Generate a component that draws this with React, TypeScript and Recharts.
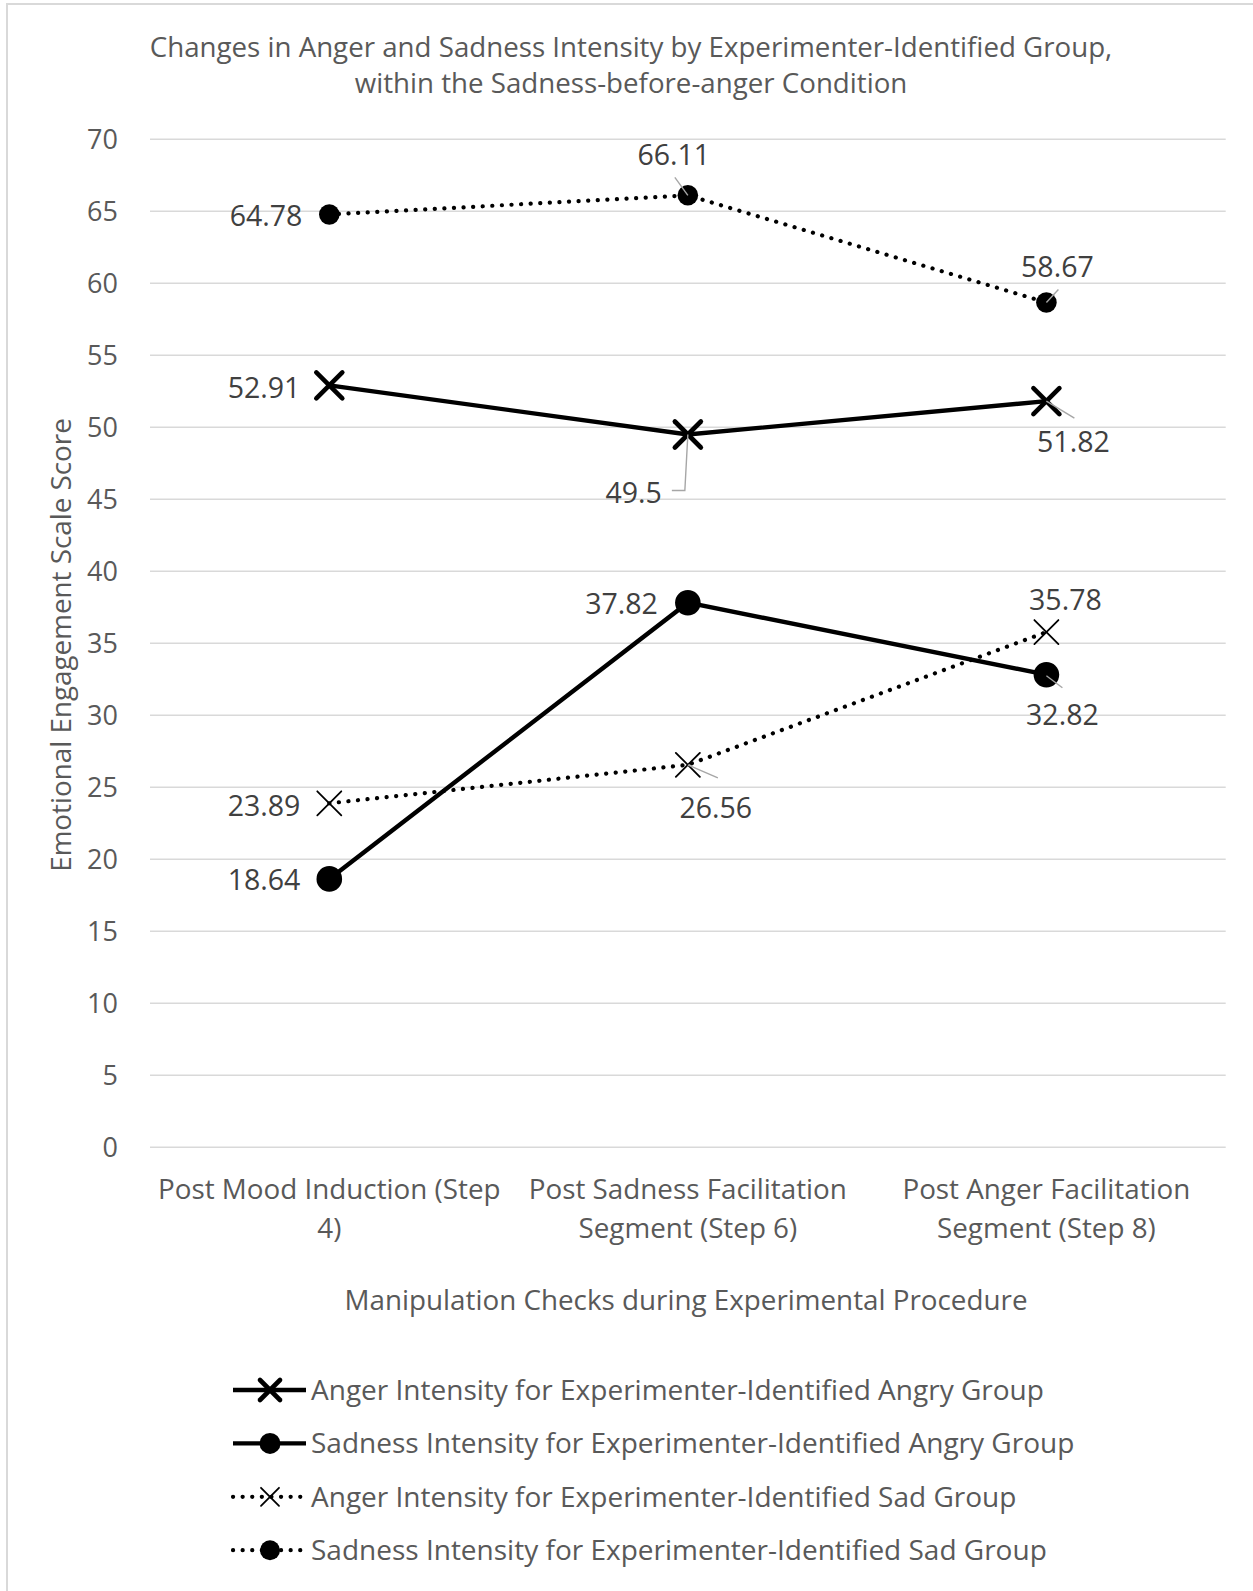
import React from "react";
import { LineChart, Line, XAxis, YAxis, CartesianGrid, Legend, LabelList } from "recharts";

document.body.style.margin = "0";

const FONT = '"Open Sans", "Noto Sans", sans-serif';
const TEXT_GREY = "#595959";
const LABEL_GREY = "#404040";
const GRID = "#d9d9d9";
const LEADER = "#a6a6a6";
const DOTTED_WIDTH = 4.2;
const SOLID_WIDTH = 4.4;

const categories = [
  "Post Mood Induction (Step 4)",
  "Post Sadness Facilitation Segment (Step 6)",
  "Post Anger Facilitation Segment (Step 8)",
];
// how each category label breaks onto two lines under the axis
const categoryLines = [
  ["Post Mood Induction (Step", "4)"],
  ["Post Sadness Facilitation", "Segment (Step 6)"],
  ["Post Anger Facilitation", "Segment (Step 8)"],
];
const yTicks = [0, 5, 10, 15, 20, 25, 30, 35, 40, 45, 50, 55, 60, 65, 70];

const angerAngry = [52.91, 49.5, 51.82];
const sadnessAngry = [18.64, 37.82, 32.82];
const angerSad = [23.89, 26.56, 35.78];
const sadnessSad = [64.78, 66.11, 58.67];

const data = categories.map((name, i) => ({
  name,
  angerAngry: angerAngry[i],
  sadnessAngry: sadnessAngry[i],
  angerSad: angerSad[i],
  sadnessSad: sadnessSad[i],
}));

type Placement = {
  dx: number;
  dy: number;
  anchor: "start" | "middle" | "end";
  leader?: number[][];
};

// where each value label sits relative to its point
const angerAngryPlace: Placement[] = [
  { dx: -29, dy: 2, anchor: "end" },
  { dx: -26, dy: 58, anchor: "end", leader: [[0, 0], [-3, 56], [-16, 56]] },
  { dx: 27, dy: 41, anchor: "middle", leader: [[0, 0], [28, 17]] },
];
const sadnessAngryPlace: Placement[] = [
  { dx: -29, dy: 1, anchor: "end" },
  { dx: -30, dy: 1, anchor: "end" },
  { dx: 16, dy: 40, anchor: "middle", leader: [[0, 1], [16, 13]] },
];
const angerSadPlace: Placement[] = [
  { dx: -29, dy: 2, anchor: "end" },
  { dx: 28, dy: 43, anchor: "middle", leader: [[0, 0], [30, 13]] },
  { dx: 19, dy: -32, anchor: "middle" },
];
const sadnessSadPlace: Placement[] = [
  { dx: -27, dy: 1, anchor: "end" },
  { dx: -14, dy: -41, anchor: "middle", leader: [[-13, -18], [0, 0]] },
  { dx: 11, dy: -36, anchor: "middle", leader: [[0, 0], [12, -13]] },
];

type MarkerKind = "boldX" | "bigDot" | "thinX" | "dot";

const series = [
  {
    key: "angerAngry",
    name: "Anger Intensity for Experimenter-Identified Angry Group",
    dotted: false,
    marker: "boldX" as MarkerKind,
    place: angerAngryPlace,
  },
  {
    key: "sadnessAngry",
    name: "Sadness Intensity for Experimenter-Identified Angry Group",
    dotted: false,
    marker: "bigDot" as MarkerKind,
    place: sadnessAngryPlace,
  },
  {
    key: "angerSad",
    name: "Anger Intensity for Experimenter-Identified Sad Group",
    dotted: true,
    marker: "thinX" as MarkerKind,
    place: angerSadPlace,
  },
  {
    key: "sadnessSad",
    name: "Sadness Intensity for Experimenter-Identified Sad Group",
    dotted: true,
    marker: "dot" as MarkerKind,
    place: sadnessSadPlace,
  },
];

function Marker({ cx, cy, kind, legend }: { cx: number; cy: number; kind: MarkerKind; legend?: boolean }) {
  if (kind === "boldX" || kind === "thinX") {
    const r = kind === "boldX" ? (legend ? 10 : 13) : legend ? 9 : 12;
    const w = kind === "boldX" ? 4.6 : 1.8;
    return (
      <g stroke="#000" strokeWidth={w} strokeLinecap="round" fill="none">
        <line x1={cx - r} y1={cy - r} x2={cx + r} y2={cy + r} />
        <line x1={cx - r} y1={cy + r} x2={cx + r} y2={cy - r} />
      </g>
    );
  }
  const r = kind === "bigDot" ? (legend ? 10.5 : 12.8) : legend ? 10 : 10.3;
  return <circle cx={cx} cy={cy} r={r} fill="#000" />;
}

function makeLabel(place: Placement[]) {
  return (props: any) => {
    const x = props.x ?? props.viewBox?.x;
    const y = props.y ?? props.viewBox?.y;
    const p = place[props.index];
    if (x == null || y == null || !p) return null;
    return (
      <g>
        {p.leader && (
          <polyline
            points={p.leader.map(([lx, ly]) => `${x + lx},${y + ly}`).join(" ")}
            fill="none"
            stroke={LEADER}
            strokeWidth={1.4}
          />
        )}
        <text
          x={x + p.dx}
          y={y + p.dy}
          dy="0.36em"
          textAnchor={p.anchor}
          fontFamily={FONT}
          fontSize={28.5}
          fill={LABEL_GREY}
        >
          {props.value}
        </text>
      </g>
    );
  };
}

const YTick = (props: any) => (
  <text
    x={118}
    y={props.y}
    dy="0.36em"
    textAnchor="end"
    fontFamily={FONT}
    fontSize={27}
    fill={TEXT_GREY}
  >
    {props.payload.value}
  </text>
);

const XTick = (props: any) => {
  const lines = categoryLines[props.index] ?? [props.payload.value];
  return (
    <text textAnchor="middle" fontFamily={FONT} fontSize={27.8} fill={TEXT_GREY}>
      {lines.map((t: string, i: number) => (
        <tspan key={i} x={props.x} y={props.y + 52 + i * 39}>
          {t}
        </tspan>
      ))}
    </text>
  );
};

const LegendIcon = ({ y, dotted, marker }: { y: number; dotted: boolean; marker: MarkerKind }) => (
  <g>
    <line
      x1={233}
      y1={y}
      x2={306}
      y2={y}
      stroke="#000"
      strokeWidth={dotted ? DOTTED_WIDTH : SOLID_WIDTH}
      strokeDasharray={dotted ? "0.1 9.5" : undefined}
      strokeLinecap={dotted ? "round" : "butt"}
    />
    <Marker cx={270} cy={y} kind={marker} legend />
  </g>
);

const renderLegend = (props: any) => {
  const items = [...(props.payload ?? [])].sort(
    (a: any, b: any) =>
      series.findIndex((s) => s.key === a.dataKey) - series.findIndex((s) => s.key === b.dataKey)
  );
  return (
    <svg width={1253} height={231}>
      {items.map((item: any, i: number) => {
        const s = series.find((d) => d.key === item.dataKey)!;
        const cy = 30 + i * 53.4;
        return (
          <g key={s.key}>
            <LegendIcon y={cy} dotted={s.dotted} marker={s.marker} />
            <text x={311} y={cy} dy="0.36em" fontFamily={FONT} fontSize={28} fill={TEXT_GREY}>
              {item.value}
            </text>
          </g>
        );
      })}
    </svg>
  );
};

export default function App() {
  return (
    <div style={{ position: "relative", width: 1253, height: 1591, background: "#fff", overflow: "hidden" }}>
      <LineChart
        width={1253}
        height={1591}
        data={data}
        margin={{ top: 139.3, right: 27.3, bottom: 283.7, left: 90 }}
      >
        <CartesianGrid vertical={false} stroke={GRID} strokeWidth={1.4} />
        <XAxis
          dataKey="name"
          axisLine={false}
          tickLine={false}
          tickSize={0}
          tickMargin={0}
          height={160}
          interval={0}
          padding={{ left: 179.3, right: 179.3 }}
          tick={<XTick />}
        />
        <YAxis
          domain={[0, 70]}
          ticks={yTicks}
          axisLine={false}
          tickLine={false}
          width={60}
          interval={0}
          tick={<YTick />}
        />
        <Legend
          layout="vertical"
          align="center"
          verticalAlign="middle"
          wrapperStyle={{ position: "absolute", left: 0, top: 1360, width: 1253, height: 231 }}
          content={renderLegend}
        />
        {series.map((s) => (
          <Line
            key={s.key}
            dataKey={s.key}
            name={s.name}
            type="linear"
            stroke="#000"
            strokeWidth={s.dotted ? DOTTED_WIDTH : SOLID_WIDTH}
            strokeDasharray={s.dotted ? "0.1 9.5" : undefined}
            strokeLinecap="round"
            isAnimationActive={false}
            activeDot={false}
            dot={(p: any) => <Marker key={`${s.key}-${p.index}`} cx={p.cx} cy={p.cy} kind={s.marker} />}
          >
            <LabelList dataKey={s.key} content={makeLabel(s.place)} />
          </Line>
        ))}
      </LineChart>
      <svg
        width={1253}
        height={1591}
        style={{ position: "absolute", left: 0, top: 0, pointerEvents: "none" }}
      >
        <rect x={7} y={4} width={1400} height={1700} fill="none" stroke={GRID} strokeWidth={2} />
        <text textAnchor="middle" fontFamily={FONT} fontSize={27.7} fill={TEXT_GREY}>
          <tspan x={631} y={57}>
            Changes in Anger and Sadness Intensity by Experimenter-Identified Group,
          </tspan>
          <tspan x={631} y={93}>
            within the Sadness-before-anger Condition
          </tspan>
        </text>
        <text
          x={61}
          y={645}
          dy="0.36em"
          textAnchor="middle"
          transform="rotate(-90 61 645)"
          fontFamily={FONT}
          fontSize={27.8}
          fill={TEXT_GREY}
        >
          Emotional Engagement Scale Score
        </text>
        <text x={686} y={1300} dy="0.36em" textAnchor="middle" fontFamily={FONT} fontSize={27.8} fill={TEXT_GREY}>
          Manipulation Checks during Experimental Procedure
        </text>
      </svg>
    </div>
  );
}
